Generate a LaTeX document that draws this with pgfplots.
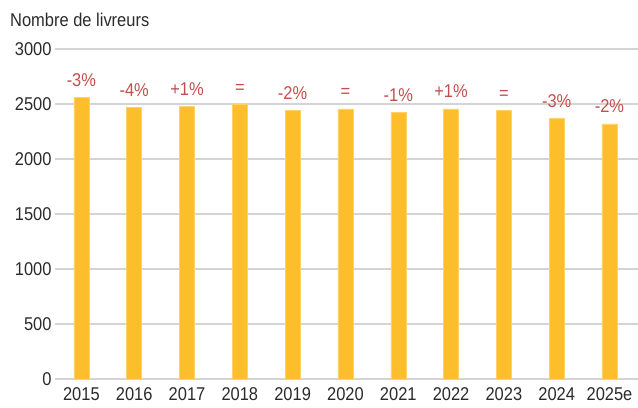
\documentclass[border=0pt]{standalone}
\usepackage{fontspec}
\setmainfont{Liberation Sans}[FakeStretch=0.89]
\usepackage{pgfplots}
\pgfplotsset{compat=1.18}
\definecolor{barfill}{HTML}{FDBE2C}
\definecolor{pctred}{HTML}{C0504D}
\definecolor{txt}{HTML}{2B2B2B}
\definecolor{gridc}{HTML}{D4D4D4}
\begin{document}
\begin{tikzpicture}[font=\fontsize{18.5bp}{21bp}\selectfont]
\useasboundingbox (0,0) rectangle (638bp,408bp);
\node[anchor=base west, text=txt, inner sep=0] at (10bp,381.3bp) {Nombre de livreurs};
\begin{axis}[
    at={(55bp,29bp)}, anchor=south west,
    scale only axis, width=583bp, height=330bp,
    ybar, bar width=15bp,
    ymin=0, ymax=3000, ytick={0,500,...,3000},
    xmin=-0.5, xmax=10.54,
    xtick={0,...,10},
    xticklabels={2015,2016,2017,2018,2019,2020,2021,2022,2023,2024,2025e},
    axis line style={draw=none}, major tick length=0,
    ymajorgrids, grid style={gridc, line width=1.3bp},
    tick label style={text=txt},
    xticklabel style={yshift=-5.5bp},
    /pgf/number format/assume math mode=true,
    /pgf/number format/1000 sep={},
    nodes near coords, point meta=explicit symbolic,
    nodes near coords style={text=pctred, anchor=base, yshift=11bp},
    clip=false,
]
\addplot[fill=barfill, draw=barfill!70!white, line width=0.5bp] coordinates {
    (0,2560) [-3\%]
    (1,2470) [-4\%]
    (2,2480) [+1\%]
    (3,2495) [=]
    (4,2445) [-2\%]
    (5,2455) [=]
    (6,2425) [-1\%]
    (7,2455) [+1\%]
    (8,2445) [=]
    (9,2370) [-3\%]
    (10,2320) [-2\%]
};
\end{axis}
\end{tikzpicture}
\end{document}
